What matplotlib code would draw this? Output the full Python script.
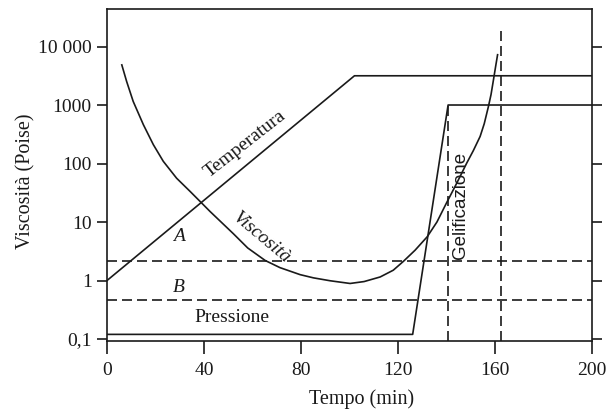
import matplotlib
matplotlib.use("Agg")
import matplotlib.pyplot as plt
from matplotlib.ticker import FixedLocator, NullLocator

# Temperatura (log-scaled on the same axis)
temp_t = [0, 102, 200]
temp_v = [1, 3160, 3160]

# Pressione
press_t = [0, 126, 140.6, 200]
press_v = [0.12, 0.12, 1000, 1000]

# Viscosita
visc_t = [6.1, 8.1, 10.8, 15.0, 19.1, 23.2, 28.7, 34.2, 38.4, 42.5, 52.1, 58,
          65.2, 71.3, 79.6, 85.1, 92, 100.2, 106, 112.6, 118, 122.2, 127, 132,
          136, 140, 144, 148.3, 151, 153.8, 155.5, 157.2, 158.3, 159.3, 160.2,
          161]
visc_v = [4850, 2520, 1150, 460, 210, 109, 56, 33.5, 22.4, 15.1, 6.3, 3.6,
          2.2, 1.66, 1.26, 1.11, 0.99, 0.89, 0.96, 1.15, 1.5, 2.13, 3.3, 5.6,
          10, 21.4, 44.7, 102, 166, 290, 479, 933, 1510, 2690, 4570,
          7240]

# horizontal dashed levels A / B
level_A = 2.13
level_B = 0.46
# vertical dashed lines (time, top value)
gel_t = [140.4, 162.3]
gel_top = [1000, 19000]

yticks = [0.1, 1, 10, 100, 1000, 10000]
yticklabels = ["0,1", "1", "10", "100", "1000", "10 000"]
xticks = [0, 40, 80, 120, 160, 200]

serif = ["Liberation Serif", "DejaVu Serif"]
plt.rcParams["font.family"] = serif
ink = "#1a1a1a"

fig = plt.figure(figsize=(6.08, 4.11), dpi=100)
ax = fig.add_axes([0.176, 0.170, 0.798, 0.808])
ax.set_yscale("log")
ax.set_xlim(0, 200)
ax.set_ylim(0.092, 43700)

lw = 1.2
ax.plot(temp_t, temp_v, color=ink, lw=lw)
ax.plot(press_t, press_v, color=ink, lw=lw)
ax.plot(visc_t, visc_v, color=ink, lw=lw)
ax.plot([0, 200], [level_A, level_A], color=ink, lw=lw, dashes=(6, 3))
ax.plot([0, 200], [level_B, level_B], color=ink, lw=lw, dashes=(6, 3))
for t, top in zip(gel_t, gel_top):
    ax.plot([t, t], [0.092, top], color=ink, lw=lw, dashes=(6, 3))

ax.text(56.9, 218, "Temperatura", rotation=38, ha="center", va="center",
        fontsize=14, color=ink)
ax.text(63.9, 5.4, "Viscosità", rotation=-40, ha="center", va="center",
        fontsize=14, style="italic", color=ink)
ax.text(51.5, 0.23, "Pressione", ha="center", va="center", fontsize=14, color=ink)
ax.text(29.7, 5.6, "A", ha="center", va="center", fontsize=14, style="italic", color=ink)
ax.text(29.7, 0.76, "B", ha="center", va="center", fontsize=14, style="italic", color=ink)
ax.text(145.6, 19, "Gelificazione", rotation=90, ha="center", va="center",
        fontsize=13.5, color=ink, family=["Liberation Sans", "DejaVu Sans"])

ax.xaxis.set_major_locator(FixedLocator(xticks))
ax.set_xticklabels([str(x) for x in xticks])
ax.yaxis.set_major_locator(FixedLocator(yticks))
ax.yaxis.set_minor_locator(NullLocator())
ax.set_yticklabels(yticklabels)

ax.tick_params(axis="x", direction="out", length=9, width=1.2, labelsize=14,
               pad=6, colors=ink)
ax.tick_params(axis="y", direction="out", length=7, width=1.2, labelsize=14,
               pad=4, colors=ink, right=True, labelright=False)
for s in ax.spines.values():
    s.set_linewidth(1.2)
    s.set_color(ink)

ax.set_xlabel("Tempo (min)", fontsize=14.5, color=ink)
ax.xaxis.set_label_coords(0.524, -0.145)
ax.set_ylabel("Viscosità (Poise)", fontsize=14.5, color=ink)
ax.yaxis.set_label_coords(-0.148, 0.482)

fig.savefig("out.png", dpi=100)
